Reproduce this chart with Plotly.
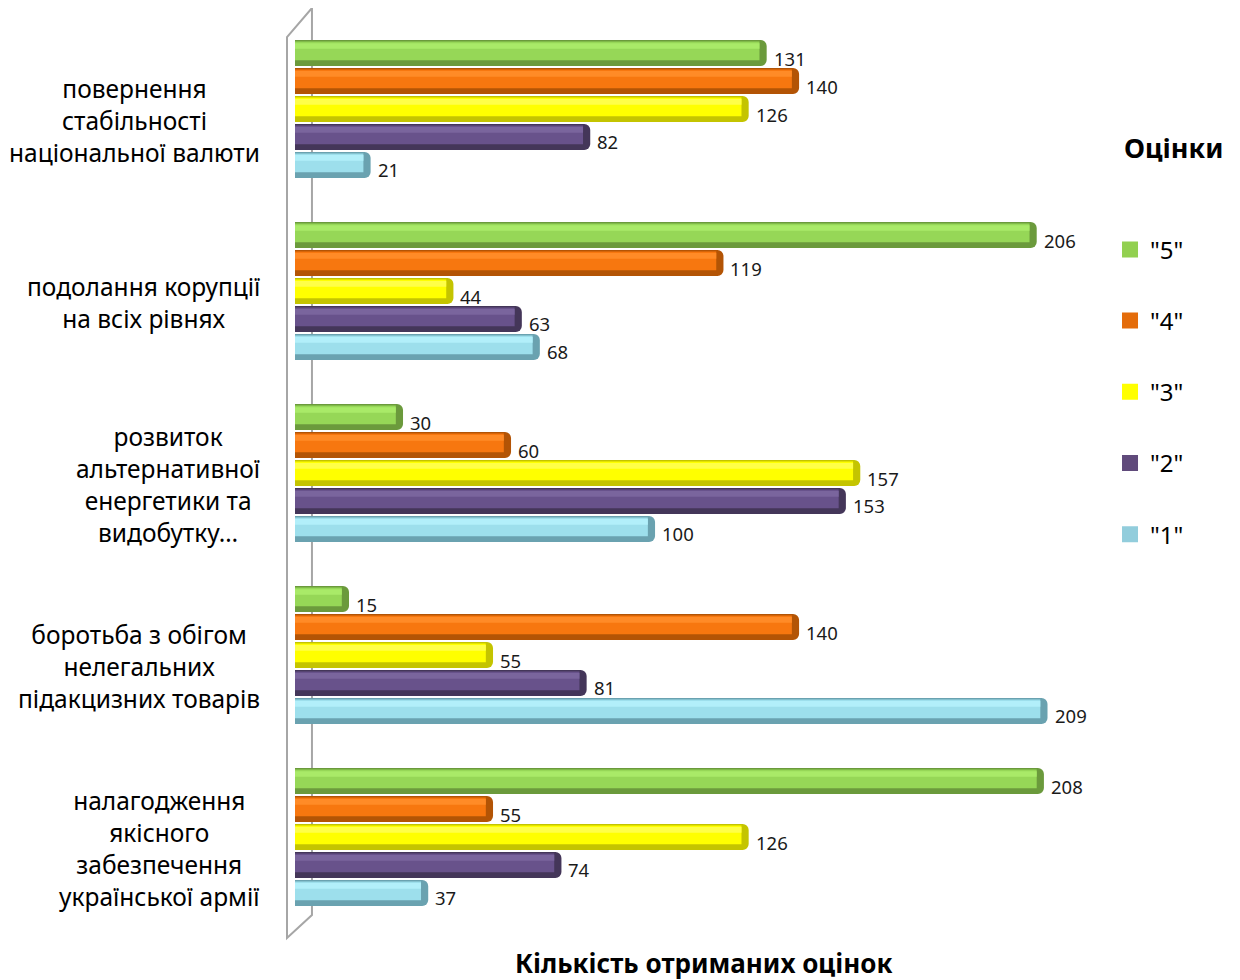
import plotly.graph_objects as go

categories = [
    "повернення<br>стабільності<br>національної валюти",
    "подолання корупції<br>на всіх рівнях",
    "розвиток<br>альтернативної<br>енергетики та<br>видобутку…",
    "боротьба з обігом<br>нелегальних<br>підакцизних товарів",
    "налагодження<br>якісного<br>забезпечення<br>української армії",
]
series_names = ['"5"', '"4"', '"3"', '"2"', '"1"']
values_5 = [131, 206, 30, 15, 208]
values_4 = [140, 119, 60, 140, 55]
values_3 = [126, 44, 157, 55, 126]
values_2 = [82, 63, 153, 81, 74]
values_1 = [21, 68, 100, 209, 37]
series_values = [values_5, values_4, values_3, values_2, values_1]

legend_colors = ["#92D050", "#E46C0A", "#FFFF00", "#604A7B", "#92CDDC"]
dark_colors = ["#6B9A3C", "#B35405", "#C4C400", "#443659", "#6AA2B0"]
mid_colors = ["#96D757", "#F7770F", "#FFFF00", "#68528B", "#9DDFEC"]
light_colors = ["#A9EA68", "#FF8B27", "#FFFF48", "#7A659D", "#B2EFFA"]

fig = go.Figure()
ypos = list(range(len(categories)))
step = 0.1538
bw = 0.143
font_family = "Noto Sans, Open Sans, sans-serif"
annotations = []

for j, name in enumerate(series_names):
    vals = series_values[j]
    c = (j - 2) * step
    top = c - bw / 2
    # base (dark) layer, rounded end
    fig.add_trace(go.Bar(
        y=ypos, x=vals, orientation="h", name=name,
        marker=dict(color=dark_colors[j], line=dict(width=0), cornerradius=6),
        width=bw, offset=top,
        legendgroup=name, showlegend=False, hoverinfo="skip",
    ))
    # main body colour
    fig.add_trace(go.Bar(
        y=ypos, x=[v - 2 for v in vals], orientation="h", name=name,
        marker=dict(color=mid_colors[j], line=dict(width=0)),
        width=bw * 0.72, offset=top + bw * 0.06,
        legendgroup=name, showlegend=False, hoverinfo="skip",
    ))
    # highlight band
    fig.add_trace(go.Bar(
        y=ypos, x=[v - 2 for v in vals], orientation="h", name=name,
        marker=dict(color=light_colors[j], line=dict(width=0)),
        width=bw * 0.22, offset=top + bw * 0.12,
        legendgroup=name, showlegend=False, hoverinfo="skip",
    ))
    # legend entry (flat colour square)
    fig.add_trace(go.Scatter(
        y=[None], x=[None], mode="markers", name=name,
        marker=dict(color=legend_colors[j], symbol="square", size=16),
        legendgroup=name, showlegend=True,
    ))
    for i, v in enumerate(vals):
        annotations.append(dict(
            x=v, xref="x", y=i + c, yref="y", text=str(v), showarrow=False,
            xanchor="left", yanchor="middle", xshift=5, yshift=-5,
            font=dict(size=18.5, color="#1a1a1a", family=font_family),
        ))

for i, cat in enumerate(categories):
    annotations.append(dict(
        x=-0.041, xref="paper", y=i, yref="y", text=cat, showarrow=False,
        xanchor="right", yanchor="middle", align="center", yshift=-11,
        font=dict(size=24.5, color="#000000", family=font_family),
    ))
annotations.append(dict(
    x=0.5075, xref="paper", y=-0.0385, yref="paper", text="<b>Кількість отриманих оцінок</b>",
    showarrow=False, xanchor="center", yanchor="middle",
    font=dict(size=26, color="#000000", family=font_family),
))
annotations.append(dict(
    x=1.0286, xref="paper", y=0.8582, yref="paper", text="<b>Оцінки</b>",
    showarrow=False, xanchor="left", yanchor="middle",
    font=dict(size=27, color="#000000", family=font_family),
))

wall = "#A6A6A6"
shapes = [
    dict(type="path", xref="paper", yref="paper",
         path="M -0.00995,0.979 L 0.0211,1.011 L 0.0211,0.0143 L -0.00995,-0.011 Z",
         line=dict(color=wall, width=2), fillcolor="rgba(0,0,0,0)", layer="below"),
]

fig.update_layout(
    width=1232, height=972,
    margin=dict(l=287, r=141, t=10, b=52),
    paper_bgcolor="white", plot_bgcolor="white",
    barmode="overlay",
    showlegend=True,
    legend=dict(x=1.0137, y=0.770, xanchor="left", yanchor="top",
                font=dict(size=24, color="#000000", family=font_family),
                tracegroupgap=37, traceorder="grouped", bgcolor="rgba(0,0,0,0)"),
    xaxis=dict(range=[0, 223.3], showticklabels=False, showgrid=False, zeroline=False,
               showline=False, ticks=""),
    yaxis=dict(range=[4.5, -0.5], showticklabels=False, showgrid=False, zeroline=False,
               showline=False, ticks=""),
    annotations=annotations,
    shapes=shapes,
    font=dict(family=font_family),
)

fig.write_html("out.html")
